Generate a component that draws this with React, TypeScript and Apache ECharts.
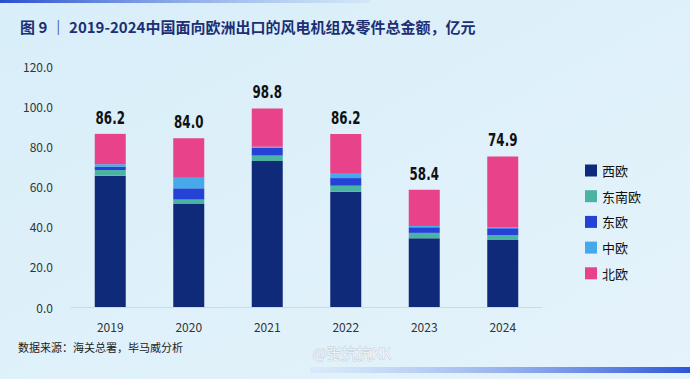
import React, { useEffect, useRef } from "react";
import * as echarts from "echarts";

const years = ["2019", "2020", "2021", "2022", "2023", "2024"];
const westEurope = [65.4, 51.5, 72.7, 57.4, 34.2, 33.4];
const southEastEurope = [2.8, 2.0, 2.7, 3.0, 2.7, 2.3];
const eastEurope = [1.7, 5.6, 3.9, 3.8, 2.8, 3.5];
const centralEurope = [1.2, 5.3, 0.5, 2.2, 0.6, 0.5];
const northEurope = [15.1, 19.6, 19.0, 19.8, 18.1, 35.2];
const totals = [86.2, 84.0, 98.8, 86.2, 58.4, 74.9];
const seriesNames = ["西欧", "东南欧", "东欧", "中欧", "北欧"];
const colors = ["#102a7a", "#4bb3a2", "#2443d6", "#45a9ea", "#e7428a"];

const CJK = '"Noto Sans CJK SC", "Noto Sans", sans-serif';

export default function App() {
  const ref = useRef<HTMLDivElement>(null);
  useEffect(() => {
    if (!ref.current) return;
    const chart = echarts.init(ref.current, null, { renderer: "svg" });
    const dataSets = [westEurope, southEastEurope, eastEurope, centralEurope, northEurope];
    const series: any[] = dataSets.map((d, i) => ({
      name: seriesNames[i],
      type: "bar",
      stack: "total",
      barWidth: "39.5%",
      data: d,
      itemStyle: { color: colors[i] },
    }));
    series.push({
      name: "合计",
      type: "custom",
      z: 10,
      silent: true,
      data: totals.map((t, i) => [i, t]),
      renderItem: (_params: any, api: any) => {
        const idx = api.value(0);
        const val = api.value(1);
        const pt = api.coord([idx, val]);
        return {
          type: "text",
          x: pt[0],
          y: pt[1] - 7,
          scaleX: 0.66,
          style: {
            text: Number(val).toFixed(1),
            fontFamily: '"DejaVu Sans", sans-serif',
            fontWeight: "bold",
            fontSize: 18,
            fill: "#111",
            align: "center",
            verticalAlign: "bottom",
          },
        };
      },
    });
    chart.setOption({
      animation: false,
      backgroundColor: {
        type: "linear",
        x: 0,
        y: 0,
        x2: 1,
        y2: 1,
        colorStops: [
          { offset: 0, color: "#d8eef9" },
          { offset: 1, color: "#e5f3fb" },
        ],
      },
      title: {
        text: "图 9 ｜ 2019-2024中国面向欧洲出口的风电机组及零件总金额，亿元",
        left: 15,
        top: 14,
        textStyle: { fontFamily: CJK, fontSize: 15, fontWeight: "bold", color: "#1c2f75" },
      },
      legend: {
        orient: "vertical",
        left: 580,
        top: 159,
        itemWidth: 12,
        itemHeight: 12,
        itemGap: 12.7,
        icon: "rect",
        data: seriesNames,
        textStyle: { fontFamily: CJK, fontSize: 13, color: "#111" },
      },
      grid: { left: 71, right: 148, top: 66, bottom: 72 },
      xAxis: {
        type: "category",
        data: years,
        axisLine: { lineStyle: { color: "#c9dbe6", width: 1 } },
        axisTick: { show: false },
        axisLabel: { fontFamily: CJK, fontSize: 12, color: "#333", margin: 13 },
      },
      yAxis: {
        type: "value",
        min: 0,
        max: 120,
        interval: 20,
        axisLine: { show: false },
        axisTick: { show: false },
        splitLine: { show: false },
        axisLabel: {
          fontFamily: CJK,
          fontSize: 12,
          color: "#333",
          margin: 18,
          formatter: (v: number) => v.toFixed(1),
        },
      },
      graphic: [
        {
          type: "rect",
          left: 0,
          top: 0,
          shape: { width: 370, height: 3 },
          style: {
            fill: {
              type: "linear",
              x: 0,
              y: 0,
              x2: 1,
              y2: 0,
              colorStops: [
                { offset: 0, color: "#2a4fd0" },
                { offset: 1, color: "rgba(120,160,230,0.1)" },
              ],
            },
          },
        },
        {
          type: "rect",
          left: 310,
          top: 367,
          shape: { width: 380, height: 6 },
          style: {
            fill: {
              type: "linear",
              x: 0,
              y: 0,
              x2: 1,
              y2: 0,
              colorStops: [
                { offset: 0, color: "rgba(140,170,240,0.1)" },
                { offset: 1, color: "#2a55d8" },
              ],
            },
          },
        },
        {
          type: "text",
          left: 18,
          top: 341,
          style: { text: "数据来源：海关总署，毕马威分析", fontFamily: CJK, fontSize: 11, fill: "#222" },
        },
        {
          type: "text",
          left: 312,
          top: 345,
          style: { text: "@张抗抗KK", fontFamily: CJK, fontSize: 15, fill: "rgba(255,255,255,0.75)", stroke: "rgba(150,160,170,0.5)", lineWidth: 0.8 },
        },
      ],
      series,
    });
    return () => chart.dispose();
  }, []);
  return (
    <div
      ref={ref}
      style={{ position: "fixed", left: 0, top: 0, width: 690, height: 379 }}
    />
  );
}
